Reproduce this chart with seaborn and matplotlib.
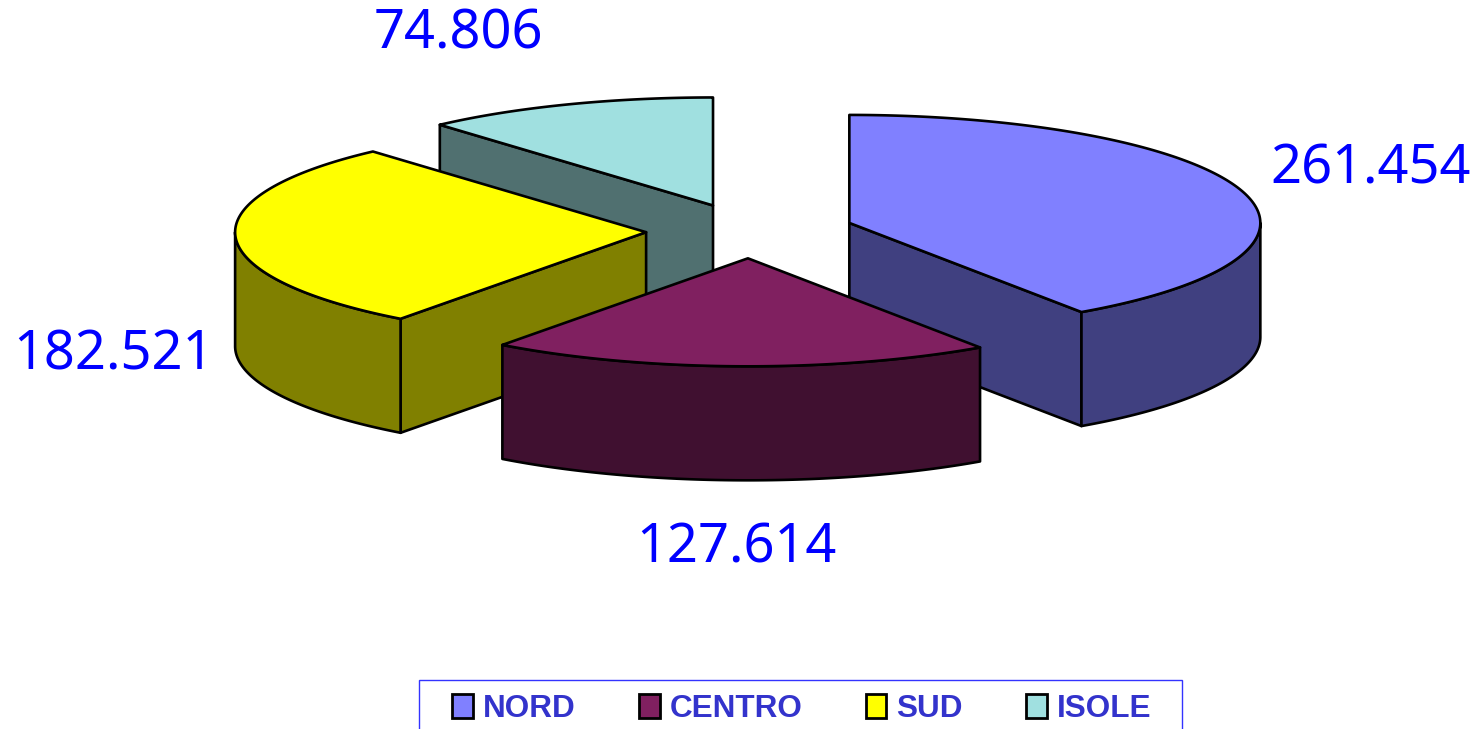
import numpy as np
import matplotlib
matplotlib.use("Agg")
import matplotlib.pyplot as plt
from matplotlib.patches import Polygon, Patch, Rectangle
import seaborn as sns

sns.set_theme(style="white")

# data
regions = ["NORD", "CENTRO", "SUD", "ISOLE"]
values = [261.454, 127.614, 182.521, 74.806]
value_labels = ["261.454", "127.614", "182.521", "74.806"]
top_colors = ["#8080FF", "#802060", "#FFFF00", "#A0E0E0"]

# layout of the 3d pie (pixel units)
W, H = 1477, 729
cx, cy = 750, 231          # centre of the pie top
rx, ry = 411, 108          # ellipse radii of the top face
depth = 114                # thickness of the pie
explode = 0.253            # explosion, fraction of radius
label_pos = [(1371, 169), (736, 548), (113, 355), (458, 34)]

fig = plt.figure(figsize=(W / 100, H / 100), dpi=100)
ax = fig.add_axes([0, 0, 1, 1])
ax.set_xlim(0, W)
ax.set_ylim(H, 0)
ax.axis("off")


def darker(c, f=0.5):
    r, g, b = matplotlib.colors.to_rgb(c)
    return (r * f, g * f, b * f)


vals = np.array(values)
spans = 360 * vals / vals.sum()
starts = 90 - np.concatenate([[0], np.cumsum(spans)[:-1]])

slices = []
for i in range(len(vals)):
    a1 = starts[i]
    a2 = a1 - spans[i]
    mid = np.radians((a1 + a2) / 2)
    ox = cx + explode * rx * np.cos(mid)
    oy = cy - explode * ry * np.sin(mid)
    slices.append((oy, i, a1, a2, ox))

# back slices first
slices.sort()
z = 1
edge = dict(edgecolor="black", linewidth=1.9, joinstyle="round")
for oy, i, a1, a2, ox in slices:
    def rim(t_deg, drop=0.0):
        t = np.radians(t_deg)
        return np.column_stack([ox + rx * np.cos(t), oy - ry * np.sin(t) + drop])

    side = darker(top_colors[i])
    apex = np.array([[ox, oy]])
    apex_low = np.array([[ox, oy + depth]])

    # radial faces
    for a, visible in [(a1, np.cos(np.radians(a1)) < -1e-6),
                       (a2, np.cos(np.radians(a2)) > 1e-6)]:
        if visible:
            pts = np.vstack([apex, rim(np.array([a])), rim(np.array([a]), depth), apex_low])
            ax.add_patch(Polygon(pts, closed=True, facecolor=side, zorder=z, **edge))
            z += 1

    # outer wall, front half only
    hi = min(a1, 0.0)
    lo = max(a2, -180.0)
    if hi > lo:
        t = np.linspace(hi, lo, 120)
        pts = np.vstack([rim(t), rim(t[::-1], depth)])
        ax.add_patch(Polygon(pts, closed=True, facecolor=side, zorder=z, **edge))
        z += 1

    # top face
    t = np.linspace(a1, a2, 200)
    pts = np.vstack([apex, rim(t)])
    ax.add_patch(Polygon(pts, closed=True, facecolor=top_colors[i], zorder=z, **edge))
    z += 1

for (x, y), txt in zip(label_pos, value_labels):
    ax.text(x, y, txt, ha="center", va="center", fontsize=39,
            family="Noto Sans", color="#0000FF", zorder=50)

# legend box (bottom edge runs off the figure like in the original)
ax.add_patch(Rectangle((419, 680), 763, 80, facecolor="white",
                       edgecolor="#3333FF", linewidth=1.0, zorder=60))

handles = [Patch(facecolor=c, edgecolor="black", linewidth=2) for c in top_colors]
fs = 22.7
leg = fig.legend(handles, regions, loc="center left",
                 bbox_to_anchor=(452 / W, 1 - 709 / H), ncol=4,
                 prop={"family": "Liberation Sans", "weight": "bold", "size": fs},
                 labelcolor="#3333CC", frameon=False,
                 handlelength=0.66, handleheight=0.75, handletextpad=0.32,
                 columnspacing=2.0, borderpad=0, borderaxespad=0)
leg.set_zorder(70)

fig.savefig("out.png", dpi=100)
